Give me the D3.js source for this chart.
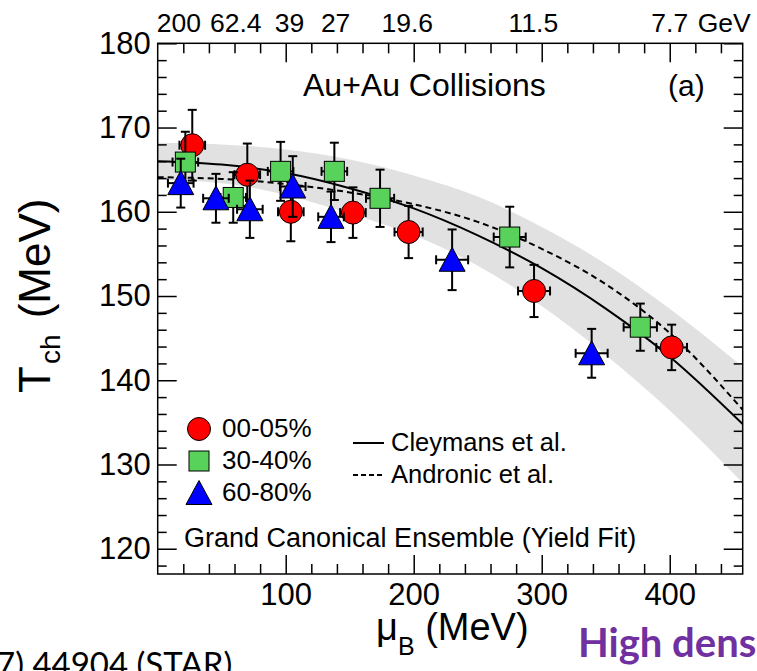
<!DOCTYPE html>
<html>
<head>
<meta charset="utf-8">
<script src="https://cdn.jsdelivr.net/npm/d3@7"></script>
<style>
body { margin: 0; background: #fff; }
text { font-family: "Liberation Sans", Arial, Helvetica, sans-serif; fill: #000; }
.err line { stroke: #000; stroke-width: 2; }
</style>
</head>
<body>
<script>
var width = 757, height = 671;

// --- data ---
var seriesNames = ["00-05%", "30-40%", "60-80%"];

var muB_0005 = [27, 70, 104, 152.5, 196, 294, 401.5];
var T_0005   = [167.9, 164.4, 160.0, 159.9, 157.6, 150.6, 143.9];
var eT_0005  = [4.2, 3.7, 3.5, 3.0, 3.1, 3.1, 2.7];
var eMu_0005 = [10, 10, 10, 10, 11, 12.5, 12];

var muB_3040 = [21.6, 59, 96, 138, 173.7, 275, 377];
var T_3040   = [165.9, 161.7, 164.8, 164.8, 161.6, 157.0, 146.3];
var eT_3040  = [3.6, 3.0, 3.5, 3.4, 3.4, 3.6, 2.8];
var eMu_3040 = [10, 10, 10, 10, 11, 12.5, 13];

var muB_6080 = [18, 45.5, 72, 105.5, 135.4, 230, 339];
var T_6080   = [163.4, 161.6, 160.3, 163.0, 159.4, 154.3, 143.2];
var eT_6080  = [2.9, 2.9, 3.4, 3.6, 3.0, 3.6, 2.9];
var eMu_6080 = [10, 10, 10, 10, 10, 12.5, 12.5];

// model curves
var curveMu   = [0, 50, 100, 150, 200, 250, 300, 350, 400, 457];
var cleymansT = [166.0, 165.6, 164.6, 162.8, 160.4, 157.2, 153.3, 148.5, 142.8, 134.8];
var andronicT = [164.1, 163.9, 163.3, 162.3, 160.9, 158.8, 155.6, 151.4, 145.6, 136.5];
var bandUpper = [168.2, 168.0, 167.4, 166.2, 164.3, 161.8, 158.2, 153.8, 148.5, 141.6];
var bandLower = [163.8, 163.4, 162.0, 159.8, 157.2, 153.6, 148.8, 143.0, 136.4, 127.8];

// top axis: collision energies
var energyLabels = ["200", "62.4", "39", "27", "19.6", "11.5", "7.7"];
var energyMu     = [16.6, 61, 103, 139, 195, 293.5, 400];

var xMajor = [100, 200, 300, 400];
var yMajor = [120, 130, 140, 150, 160, 170, 180];

// --- layout ---
var plotL = 157.7, plotR = 742.7, plotT = 43.3, plotB = 574;

var x = d3.scaleLinear().domain([0, 457]).range([plotL, plotR]);
var y = d3.scaleLinear().domain([117, 180]).range([plotB, plotT]);

var svg = d3.select("body").append("svg")
    .attr("width", width)
    .attr("height", height);

svg.append("rect").attr("width", width).attr("height", height).attr("fill", "#fff");

svg.append("clipPath").attr("id", "plot")
  .append("rect")
    .attr("x", plotL).attr("y", plotT)
    .attr("width", plotR - plotL).attr("height", plotB - plotT);

var plot = svg.append("g").attr("clip-path", "url(#plot)");

// band
var bandData = curveMu.map(function(m, i) { return {mu: m, lo: bandLower[i], hi: bandUpper[i]}; });
plot.append("path")
    .datum(bandData)
    .attr("fill", "#e1e1e1")
    .attr("d", d3.area().curve(d3.curveMonotoneX)
        .x(function(d) { return x(d.mu); })
        .y0(function(d) { return y(d.lo); })
        .y1(function(d) { return y(d.hi); }));

var line = d3.line().curve(d3.curveMonotoneX)
    .x(function(d) { return x(d[0]); })
    .y(function(d) { return y(d[1]); });

plot.append("path")
    .datum(curveMu.map(function(m, i) { return [m, andronicT[i]]; }))
    .attr("fill", "none").attr("stroke", "#000").attr("stroke-width", 2)
    .attr("stroke-dasharray", "6,4")
    .attr("d", line);

plot.append("path")
    .datum(curveMu.map(function(m, i) { return [m, cleymansT[i]]; }))
    .attr("fill", "none").attr("stroke", "#000").attr("stroke-width", 2)
    .attr("d", line);

// --- axes (ROOT style, ticks inside, mirrored) ---
var xMinor = d3.range(20, 441, 20).filter(function(v) { return xMajor.indexOf(v) < 0; });
var yMinor = d3.range(118, 181, 2).filter(function(v) { return v % 10 !== 0; });

var axes = svg.append("g");

axes.append("g").attr("transform", "translate(0," + plotB + ")")
    .call(d3.axisBottom(x).tickValues(xMajor).tickSize(-19).tickPadding(9).tickSizeOuter(0));
axes.append("g").attr("transform", "translate(0," + plotB + ")")
    .call(d3.axisBottom(x).tickValues(xMinor).tickSize(-10).tickFormat("").tickSizeOuter(0));
axes.append("g").attr("transform", "translate(0," + plotT + ")")
    .call(d3.axisTop(x).tickValues(xMajor).tickSize(-19).tickFormat("").tickSizeOuter(0));
axes.append("g").attr("transform", "translate(0," + plotT + ")")
    .call(d3.axisTop(x).tickValues(xMinor).tickSize(-10).tickFormat("").tickSizeOuter(0));

axes.append("g").attr("transform", "translate(" + plotL + ",0)")
    .call(d3.axisLeft(y).tickValues(yMajor).tickSize(-19).tickPadding(7).tickSizeOuter(0));
axes.append("g").attr("transform", "translate(" + plotL + ",0)")
    .call(d3.axisLeft(y).tickValues(yMinor).tickSize(-9).tickFormat("").tickSizeOuter(0));
axes.append("g").attr("transform", "translate(" + plotR + ",0)")
    .call(d3.axisRight(y).tickValues(yMajor).tickSize(-19).tickFormat("").tickSizeOuter(0));
axes.append("g").attr("transform", "translate(" + plotR + ",0)")
    .call(d3.axisRight(y).tickValues(yMinor).tickSize(-9).tickFormat("").tickSizeOuter(0));

axes.selectAll(".domain").remove();
axes.selectAll(".tick line").attr("stroke", "#000").attr("stroke-width", 1.5);
axes.selectAll(".tick text")
    .style("font-family", "Liberation Sans, Arial, sans-serif")
    .style("font-size", "31px")
    .attr("fill", "#000");

svg.append("rect")
    .attr("x", plotL).attr("y", plotT)
    .attr("width", plotR - plotL).attr("height", plotB - plotT)
    .attr("fill", "none").attr("stroke", "#000").attr("stroke-width", 1.5);

// top energy labels
svg.append("g").selectAll("text")
  .data(energyLabels)
  .enter().append("text")
    .attr("x", function(d, i) { return x(energyMu[i]); })
    .attr("y", 32)
    .attr("text-anchor", "middle")
    .style("font-size", "26.5px")
    .text(function(d) { return d; });
svg.append("text")
    .attr("x", x(energyMu[6]) + 28).attr("y", 32)
    .style("font-size", "26.5px")
    .text("GeV");

// --- markers ---
function drawMarker(g, kind) {
  if (kind === 0) {
    g.append("circle").attr("r", 11.5).attr("fill", "#ff0000").attr("stroke", "#000").attr("stroke-width", 1);
  } else if (kind === 1) {
    g.append("rect").attr("x", -10).attr("y", -10).attr("width", 20).attr("height", 20)
      .attr("fill", "#58d25a").attr("stroke", "#000").attr("stroke-width", 1);
  } else {
    g.append("path").attr("d", "M0,-12.5L13,11.5L-13,11.5Z")
      .attr("fill", "#0000ff").attr("stroke", "#000").attr("stroke-width", 1);
  }
}

var series = [
  {mu: muB_0005, T: T_0005, eT: eT_0005, eMu: eMu_0005},
  {mu: muB_3040, T: T_3040, eT: eT_3040, eMu: eMu_3040},
  {mu: muB_6080, T: T_6080, eT: eT_6080, eMu: eMu_6080}
];

var cap = 4.5;
series.forEach(function(s, k) {
  var pts = s.mu.map(function(m, i) { return {mu: m, T: s.T[i], eT: s.eT[i], eMu: s.eMu[i]}; });
  var g = svg.append("g");
  var e = g.selectAll("g.err").data(pts).enter().append("g").attr("class", "err");
  e.append("line")
      .attr("x1", function(d) { return x(d.mu); }).attr("x2", function(d) { return x(d.mu); })
      .attr("y1", function(d) { return y(d.T - d.eT); }).attr("y2", function(d) { return y(d.T + d.eT); });
  e.append("line")
      .attr("x1", function(d) { return x(d.mu) - cap; }).attr("x2", function(d) { return x(d.mu) + cap; })
      .attr("y1", function(d) { return y(d.T + d.eT); }).attr("y2", function(d) { return y(d.T + d.eT); });
  e.append("line")
      .attr("x1", function(d) { return x(d.mu) - cap; }).attr("x2", function(d) { return x(d.mu) + cap; })
      .attr("y1", function(d) { return y(d.T - d.eT); }).attr("y2", function(d) { return y(d.T - d.eT); });
  e.append("line")
      .attr("x1", function(d) { return x(d.mu - d.eMu); }).attr("x2", function(d) { return x(d.mu + d.eMu); })
      .attr("y1", function(d) { return y(d.T); }).attr("y2", function(d) { return y(d.T); });
  e.append("line")
      .attr("x1", function(d) { return x(d.mu - d.eMu); }).attr("x2", function(d) { return x(d.mu - d.eMu); })
      .attr("y1", function(d) { return y(d.T) - cap; }).attr("y2", function(d) { return y(d.T) + cap; });
  e.append("line")
      .attr("x1", function(d) { return x(d.mu + d.eMu); }).attr("x2", function(d) { return x(d.mu + d.eMu); })
      .attr("y1", function(d) { return y(d.T) - cap; }).attr("y2", function(d) { return y(d.T) + cap; });

  g.selectAll("g.mk").data(pts).enter().append("g")
      .attr("class", "mk")
      .attr("transform", function(d) { return "translate(" + x(d.mu) + "," + y(d.T) + ")"; })
      .each(function() { drawMarker(d3.select(this), k); });
});

// --- texts inside the frame ---
svg.append("text").attr("x", 303).attr("y", 96).style("font-size", "32px").text("Au+Au Collisions");
svg.append("text").attr("x", 668).attr("y", 96).style("font-size", "30px").text("(a)");

var legY = [429, 461, 493];
seriesNames.forEach(function(name, k) {
  var g = svg.append("g").attr("transform", "translate(199," + legY[k] + ")");
  drawMarker(g, k);
  svg.append("text").attr("x", 222).attr("y", legY[k] + 8).style("font-size", "26px").text(name);
});

svg.append("line").attr("x1", 353).attr("x2", 384).attr("y1", 443).attr("y2", 443)
    .attr("stroke", "#000").attr("stroke-width", 2);
svg.append("text").attr("x", 391).attr("y", 451).style("font-size", "25.5px").text("Cleymans et al.");
svg.append("line").attr("x1", 353).attr("x2", 384).attr("y1", 475).attr("y2", 475)
    .attr("stroke", "#000").attr("stroke-width", 2).attr("stroke-dasharray", "5,3");
svg.append("text").attr("x", 391).attr("y", 483).style("font-size", "25.5px").text("Andronic et al.");

svg.append("text").attr("x", 184).attr("y", 547).style("font-size", "27px")
    .text("Grand Canonical Ensemble (Yield Fit)");

// axis titles
var yt = svg.append("text").attr("transform", "translate(50,393) rotate(-90)").style("font-size", "44px");
yt.append("tspan").text("T");
yt.append("tspan").attr("dy", 10).attr("dx", 2).style("font-size", "28px").text("ch");
yt.append("tspan").attr("dy", -10).attr("dx", 4).text(" (MeV)");

var xt = svg.append("text").attr("x", 376).attr("y", 640).style("font-size", "38px");
xt.append("tspan").text("\u03bc");
xt.append("tspan").attr("dy", 15).style("font-size", "25px").text("B");
xt.append("tspan").attr("dy", -15).text(" (MeV)");

// slide fragments around the figure
svg.append("text").attr("x", 578).attr("y", 657)
    .style("font-family", "Lato, 'Open Sans', sans-serif").style("font-weight", "bold")
    .style("font-size", "40px").style("fill", "#7030a0")
    .text("High dens");
svg.append("text").attr("x", -4).attr("y", 676)
    .style("font-family", "Lato, 'Open Sans', sans-serif")
    .style("font-size", "33px")
    .text("7) 44904 (STAR)");
</script>
</body>
</html>
